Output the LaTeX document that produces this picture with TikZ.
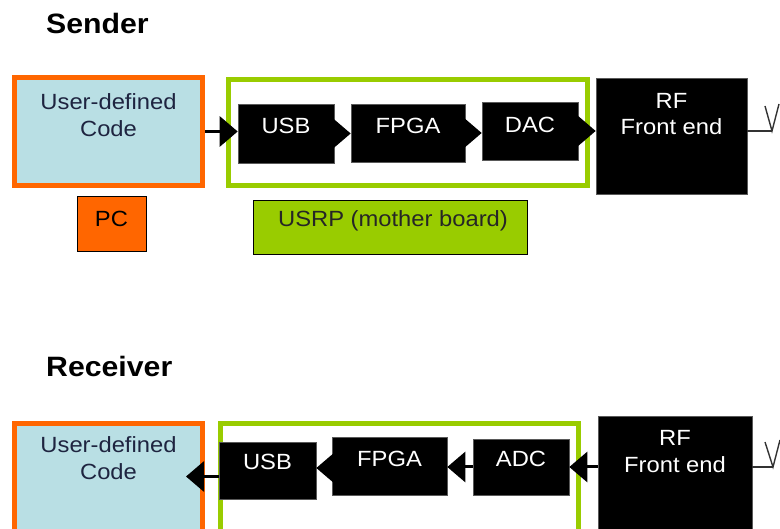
\documentclass[tikz,border=0pt]{standalone}
\usepackage{fontspec}
\setmainfont[FakeStretch=1.08]{Liberation Sans}
\usetikzlibrary{arrows.meta,calc}
\definecolor{orng}{HTML}{FF6600}
\definecolor{lblue}{HTML}{B9DFE4}
\definecolor{grn}{HTML}{99CC00}
\definecolor{navytxt}{HTML}{1E2440}
\begin{document}
\begin{tikzpicture}[x=1pt,y=-1pt,
  codebox/.style={draw=orng, line width=5pt, fill=lblue, minimum width=188pt, minimum height=108pt, inner sep=0},
  usrpframe/.style={draw=grn, line width=5pt, fill=white, inner sep=0},
  blk/.style={draw=black!65, line width=0.6pt, fill=black, inner sep=0},
  tagbox/.style={draw=black, line width=0.8pt, inner sep=0},
  wtxt/.style={text=white, font=\fontsize{22}{26.5}\selectfont, anchor=base, inner sep=0},
  dtxt/.style={text=navytxt, font=\fontsize{22}{26.5}\selectfont, anchor=base, inner sep=0},
  title/.style={font=\bfseries\fontsize{28}{32}\selectfont, anchor=base west, inner sep=0},
  arr/.style={line width=3pt, -{Triangle[length=18pt,width=30pt]}},
  ant/.style={draw=black!80, line width=1.4pt}
]
\useasboundingbox (0,0) rectangle (780,529);
\clip (0,0) rectangle (780,529);
\setlength{\tabcolsep}{0pt}

% ---------- Sender ----------
\node[title] (sender) at (46,34) {Sender};
\node[codebox] (scode) at (108.5,131.5) {};
\node[dtxt] (scodet) at (108.5,110) {\begin{tabular}[t]{c}User-defined\\Code\end{tabular}};
\node[tagbox, fill=orng, minimum width=69pt, minimum height=55pt] (pc) at (111.5,223.5) {};
\node[dtxt, text=black] (pct) at (111.5,227) {PC};

\node[usrpframe, minimum width=359pt, minimum height=106pt] (susrp) at (408,132.5) {};
\node[tagbox, fill=grn, minimum width=274pt, minimum height=54pt] (mb) at (390,227) {};
\node[dtxt, text=black!85] (mbt) at (393,227) {USRP (mother board)};

\node[blk, minimum width=96pt, minimum height=59pt] (susb) at (286,133.5) {};
\node[wtxt] (susbt) at (286,134) {USB};
\node[blk, minimum width=114pt, minimum height=58pt] (sfpga) at (408,133) {};
\node[wtxt] (sfpgat) at (408,134) {FPGA};
\node[blk, minimum width=96pt, minimum height=58pt] (sdac) at (530,131) {};
\node[wtxt] (sdact) at (530,133) {DAC};
\node[blk, minimum width=151pt, minimum height=116pt] (srf) at (671.5,136) {};
\node[wtxt] (srft) at (671.5,108.5) {\begin{tabular}[t]{c}RF\\Front end\end{tabular}};

\draw[arr] (scode.east) -- (scode.east -| susb.west);
\draw[arr] (susb.east) -- (susb.east -| sfpga.west);
\draw[arr] (sfpga.east) -- (sfpga.east -| sdac.west);
\draw[arr] (sdac.east) -- (sdac.east -| srf.west);

\coordinate (sant) at (772,131);
\draw[ant] (srf.east |- sant) -- (sant);
\draw[ant] (765,106) -- (sant) -- (779,104);

% ---------- Receiver ----------
\node[title] (receiver) at (46,377) {Receiver};
\node[codebox] (rcode) at (108.5,477.5) {};
\node[dtxt] (rcodet) at (108.5,453) {\begin{tabular}[t]{c}User-defined\\Code\end{tabular}};

\node[usrpframe, minimum width=358pt, minimum height=116pt] (rusrp) at (399.5,481.5) {};

\node[blk, minimum width=97pt, minimum height=57pt] (rusb) at (267.5,470.5) {};
\node[wtxt] (rusbt) at (267.5,470) {USB};
\node[blk, minimum width=115pt, minimum height=58pt] (rfpga) at (389.5,466) {};
\node[wtxt] (rfpgat) at (389.5,467) {FPGA};
\node[blk, minimum width=96pt, minimum height=56pt] (radc) at (521,467) {};
\node[wtxt] (radct) at (521,467) {ADC};
\node[blk, minimum width=154pt, minimum height=116pt] (rrf) at (675,474) {};
\node[wtxt] (rrft) at (675,446) {\begin{tabular}[t]{c}RF\\Front end\end{tabular}};

\draw[arr] (radc.east -| rrf.west) -- (radc.east);
\draw[arr] (radc.west) -- (radc.west -| rfpga.east);
\draw[arr] ([yshift=-2pt]rfpga.west) -- ([yshift=-2pt]rfpga.west -| rusb.east);
\draw[arr, shorten >=-19pt] ([yshift=-6pt]rusb.west) -- ([yshift=-6pt]rusb.west -| rcode.east);

\coordinate (rant) at (773,467);
\draw[ant] (rrf.east |- rant) -- (rant);
\draw[ant] (765,442) -- (rant) -- (780,440);
\end{tikzpicture}
\end{document}
